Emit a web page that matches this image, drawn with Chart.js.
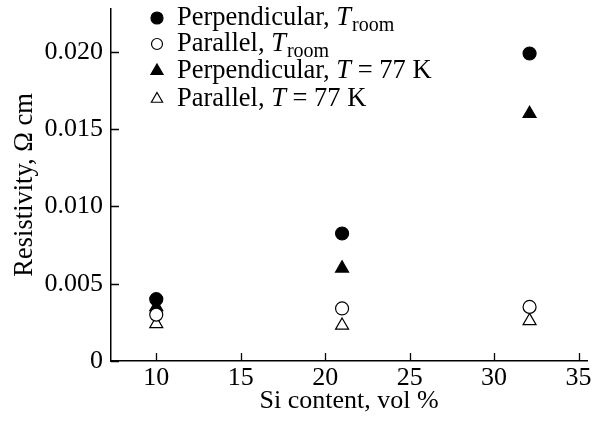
<!DOCTYPE html>
<html>
<head>
<meta charset="utf-8">
<script src="https://cdn.jsdelivr.net/npm/chart.js@4"></script>
<style>
  html, body { margin: 0; padding: 0; background: #fff; }
  #wrap { width: 599px; height: 424px; }
</style>
</head>
<body>
<div id="wrap"><canvas id="chart" width="599" height="424"></canvas></div>
<script>
// Si content, vol %
const siContent = [10, 21, 32.1];

// resistivity, Ohm cm
const perpRoom = [0.0040, 0.00825, 0.0199];
const paraRoom = [0.0030, 0.0034, 0.0035];
const perp77 = [0.0035, 0.0060, 0.0160];
const para77 = [0.0024, 0.0023, 0.0026];

const xTicks = [10, 15, 20, 25, 30, 35];
const yTicks = [0, 0.005, 0.010, 0.015, 0.020];

const legendItems = [
  { text: 'Perpendicular, ', it: 'T', rest: 'room', sub: true },
  { text: 'Parallel, ', it: 'T', rest: 'room', sub: true },
  { text: 'Perpendicular, ', it: 'T', rest: ' = 77 K', sub: false },
  { text: 'Parallel, ', it: 'T', rest: ' = 77 K', sub: false }
];

const FONT = '"Liberation Serif", "DejaVu Serif", serif';

const toPoints = (ys) => siContent.map((x, i) => ({ x: x, y: ys[i] }));

const makeSet = (label, values, style, filled, r) => ({
  label: label,
  data: toPoints(values),
  pointStyle: style,
  pointRadius: r,
  pointHoverRadius: r,
  pointBorderWidth: 1.2,
  borderColor: '#000',
  pointBorderColor: '#000',
  pointBackgroundColor: filled ? '#000' : '#fff',
  backgroundColor: filled ? '#000' : '#fff',
  showLine: false
});

// inward tick marks + custom legend with subscripts
const decor = {
  id: 'decor',
  afterDraw(chart) {
    const ctx = chart.ctx;
    const xs = chart.scales.x, ys = chart.scales.y;
    const area = chart.chartArea;
    ctx.save();
    ctx.strokeStyle = '#000';
    ctx.lineWidth = 1.3;
    ctx.beginPath();
    xTicks.forEach(v => {
      const px = Math.round(xs.getPixelForValue(v)) + 0.5;
      ctx.moveTo(px, area.bottom);
      ctx.lineTo(px, area.bottom - 8);
    });
    yTicks.forEach(v => {
      const py = Math.round(ys.getPixelForValue(v)) + 0.5;
      ctx.moveTo(area.left, py);
      ctx.lineTo(area.left + 8, py);
    });
    ctx.stroke();

    // legend
    const x0 = 157, tx = 177;
    const rowsY = [18, 44, 71, 99];
    const radii = [6, 5.5, 7, 6.5];
    legendItems.forEach((item, i) => {
      const ds = chart.data.datasets[i];
      const y = rowsY[i];
      ctx.fillStyle = ds.pointBackgroundColor;
      ctx.strokeStyle = '#000';
      ctx.lineWidth = 1.2;
      Chart.helpers.drawPoint(ctx, {
        pointStyle: ds.pointStyle,
        radius: radii[i],
        borderWidth: 1.2,
        rotation: 0
      }, x0, y);

      ctx.fillStyle = '#000';
      ctx.textBaseline = 'middle';
      ctx.textAlign = 'left';
      let cx = tx;
      ctx.font = '26.5px ' + FONT;
      ctx.fillText(item.text, cx, y);
      cx += ctx.measureText(item.text).width;
      ctx.font = 'italic 26.5px ' + FONT;
      ctx.fillText(item.it, cx, y);
      cx += ctx.measureText(item.it).width;
      if (item.sub) {
        ctx.font = '20px ' + FONT;
        ctx.fillText(item.rest, cx + 1, y + 8);
      } else {
        ctx.font = '26.5px ' + FONT;
        ctx.fillText(item.rest, cx, y);
      }
    });
    ctx.restore();
  }
};

new Chart(document.getElementById('chart'), {
  type: 'scatter',
  data: {
    datasets: [
      makeSet('Perpendicular, T room', perpRoom, 'circle', true, 6.5),
      makeSet('Parallel, T room', paraRoom, 'circle', false, 6.5),
      makeSet('Perpendicular, T = 77 K', perp77, 'triangle', true, 7.5),
      makeSet('Parallel, T = 77 K', para77, 'triangle', false, 7.5)
    ]
  },
  options: {
    responsive: false,
    animation: false,
    layout: { padding: { top: 7, right: 12, left: 0, bottom: 0 } },
    plugins: {
      legend: { display: false },
      tooltip: { enabled: false }
    },
    scales: {
      x: {
        type: 'linear',
        min: 7.32,
        max: 35.5,
        afterBuildTicks: (s) => { s.ticks = xTicks.map(v => ({ value: v })); },
        afterFit: (s) => {
          s.height = 63;
          s.paddingLeft = 0;
          s.paddingRight = 0;
        },
        grid: { display: false, drawTicks: false },
        border: { display: true, color: '#000', width: 1.5 },
        ticks: {
          color: '#000',
          padding: 2,
          maxRotation: 0,
          font: { family: FONT, size: 26 }
        },
        title: {
          display: true,
          text: 'Si content, vol %',
          color: '#000',
          padding: { top: 0, bottom: 7 },
          font: { family: FONT, size: 26 }
        }
      },
      y: {
        type: 'linear',
        min: 0,
        max: 0.0228,
        afterBuildTicks: (s) => { s.ticks = yTicks.map(v => ({ value: v })); },
        afterFit: (s) => {
          s.width = 111;
          s.paddingTop = 0;
          s.paddingBottom = 0;
        },
        grid: { display: false, drawTicks: false },
        border: { display: true, color: '#000', width: 1.5 },
        ticks: {
          color: '#000',
          padding: 8,
          font: { family: FONT, size: 26 },
          callback: (v) => v === 0 ? '0' : v.toFixed(3)
        },
        title: {
          display: true,
          text: 'Resistivity, Ω cm',
          color: '#000',
          padding: { top: 9, bottom: 0 },
          font: { family: FONT, size: 26.5 }
        }
      }
    }
  },
  plugins: [decor]
});
</script>
</body>
</html>
